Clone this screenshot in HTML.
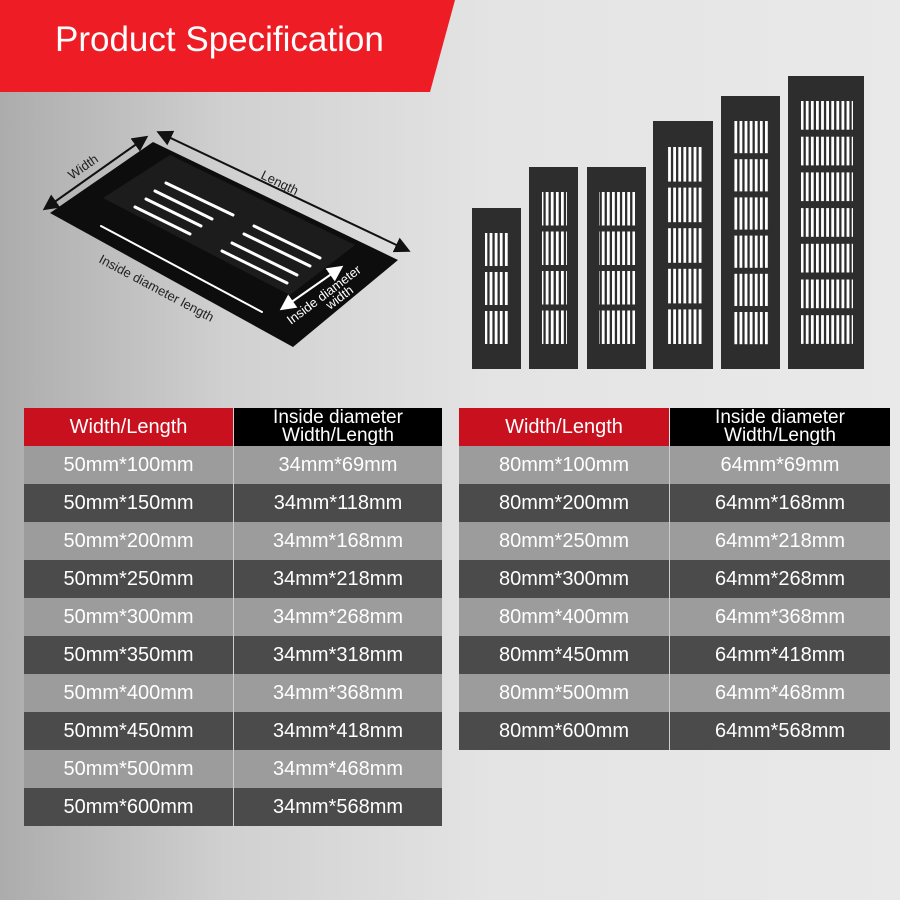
<!DOCTYPE html>
<html><head><meta charset="utf-8"><style>
body{margin:0;width:900px;height:900px;overflow:hidden;font-family:"Liberation Sans",sans-serif;}
#bg{position:absolute;left:0;top:0;width:900px;height:900px;background:linear-gradient(90deg,#acacac 0%,#d0d0d0 25%,#e4e4e4 55%,#e9e9e9 100%);}
.c{position:absolute;color:#fff;font-size:20px;display:flex;align-items:center;justify-content:center;text-align:center;line-height:19px;}
</style></head><body>
<div id="bg"></div>
<svg width="900" height="900" style="position:absolute;left:0;top:0">
<defs>
<pattern id="sl" x="0" y="0" width="5.1" height="10" patternUnits="userSpaceOnUse"><rect x="0" y="0" width="2.8" height="10" fill="#fff"/></pattern>
<marker id="ah" markerWidth="8" markerHeight="8" refX="6" refY="4" orient="auto-start-reverse"><path d="M0,0 L8,4 L0,8 z" fill="#111"/></marker>
<marker id="aw" markerWidth="8" markerHeight="8" refX="6" refY="4" orient="auto-start-reverse"><path d="M0,0 L8,4 L0,8 z" fill="#fff"/></marker>
</defs>
<polygon points="0,0 455,0 430,92 0,92" fill="#ee1c25"/>
<text x="55" y="51" font-size="35" fill="#fff" font-family="Liberation Sans">Product Specification</text>

<!-- product -->
<polygon points="50,213 153,142 398,260 293,347" fill="#0d0d0d"/>
<polygon points="103,198 170,155 355,245 290,295" fill="#1c1c1c"/>
<g stroke="#fff" stroke-width="3" stroke-linecap="round">
<line x1="166" y1="183" x2="233" y2="215"/><line x1="155" y1="191" x2="212" y2="219"/><line x1="146" y1="199" x2="201" y2="226"/><line x1="135" y1="207" x2="190" y2="234"/>
<line x1="254" y1="226" x2="320" y2="258"/><line x1="244" y1="234" x2="310" y2="266"/><line x1="232" y1="243" x2="297" y2="275"/><line x1="222" y1="251" x2="287" y2="283"/>
<line x1="101" y1="226" x2="262" y2="312" stroke-width="2"/>
</g>
<line x1="46" y1="208" x2="145" y2="138" stroke="#111" stroke-width="2" marker-start="url(#ah)" marker-end="url(#ah)"/>
<line x1="160" y1="133" x2="407" y2="250" stroke="#111" stroke-width="2" marker-start="url(#ah)" marker-end="url(#ah)"/>
<line x1="283" y1="308" x2="340" y2="268" stroke="#fff" stroke-width="2" marker-start="url(#aw)" marker-end="url(#aw)"/>
<text transform="translate(72,180) rotate(-35)" font-size="13" fill="#222">Width</text>
<text transform="translate(260,178) rotate(26)" font-size="13" fill="#222">Length</text>
<text transform="translate(98,262) rotate(28)" font-size="13" fill="#222">Inside diameter length</text>
<text transform="translate(291,325) rotate(-37)" font-size="13" fill="#fff">Inside diameter</text>
<text transform="translate(330,310) rotate(-37)" font-size="13" fill="#fff">width</text>

<!-- vents -->
<g fill="#2d2d2d"><rect x="472" y="208" width="49" height="161"/><rect x="529" y="167" width="49" height="202"/><rect x="587" y="167" width="59" height="202"/><rect x="653" y="121" width="60" height="248"/><rect x="721" y="96" width="59" height="273"/><rect x="788" y="76" width="76" height="293"/></g>
<g fill="url(#sl)">
<rect x="485" y="233" width="25" height="33"/><rect x="485" y="272" width="25" height="33"/><rect x="485" y="311" width="25" height="33"/>
<rect x="542" y="192" width="25" height="33.5"/><rect x="542" y="231.5" width="25" height="33.5"/><rect x="542" y="271" width="25" height="33.5"/><rect x="542" y="310.5" width="25" height="33.5"/>
<rect x="599" y="192" width="36" height="33.5"/><rect x="599" y="231.5" width="36" height="33.5"/><rect x="599" y="271" width="36" height="33.5"/><rect x="599" y="310.5" width="36" height="33.5"/>
<rect x="666" y="147" width="36" height="34.6"/><rect x="666" y="187.6" width="36" height="34.6"/><rect x="666" y="228.2" width="36" height="34.6"/><rect x="666" y="268.8" width="36" height="34.6"/><rect x="666" y="309.4" width="36" height="34.6"/>
<rect x="733" y="121" width="36" height="32.2"/><rect x="733" y="159.2" width="36" height="32.2"/><rect x="733" y="197.4" width="36" height="32.2"/><rect x="733" y="235.6" width="36" height="32.2"/><rect x="733" y="273.8" width="36" height="32.2"/><rect x="733" y="312" width="36" height="32.2"/>
<rect x="801" y="101" width="52" height="28.7"/><rect x="801" y="136.7" width="52" height="28.7"/><rect x="801" y="172.4" width="52" height="28.7"/><rect x="801" y="208.1" width="52" height="28.7"/><rect x="801" y="243.8" width="52" height="28.7"/><rect x="801" y="279.5" width="52" height="28.7"/><rect x="801" y="315.2" width="52" height="28.7"/>
</g>
</svg>

<!-- left table -->
<div class="c" style="left:24px;top:408px;width:209px;height:38px;background:#c8101e">Width/Length</div>
<div class="c" style="left:234px;top:408px;width:208px;height:38px;background:#000;font-size:19px;line-height:18px">Inside diameter<br>Width/Length</div>
<div style="position:absolute;left:24px;top:446px;width:418px;">
<div style="display:flex;height:38px;background:#9c9c9c"><div class="c" style="position:static;width:209px;border-right:1px solid #ccc">50mm*100mm</div><div class="c" style="position:static;width:208px">34mm*69mm</div></div>
<div style="display:flex;height:38px;background:#4b4b4b"><div class="c" style="position:static;width:209px;border-right:1px solid #ccc">50mm*150mm</div><div class="c" style="position:static;width:208px">34mm*118mm</div></div>
<div style="display:flex;height:38px;background:#9c9c9c"><div class="c" style="position:static;width:209px;border-right:1px solid #ccc">50mm*200mm</div><div class="c" style="position:static;width:208px">34mm*168mm</div></div>
<div style="display:flex;height:38px;background:#4b4b4b"><div class="c" style="position:static;width:209px;border-right:1px solid #ccc">50mm*250mm</div><div class="c" style="position:static;width:208px">34mm*218mm</div></div>
<div style="display:flex;height:38px;background:#9c9c9c"><div class="c" style="position:static;width:209px;border-right:1px solid #ccc">50mm*300mm</div><div class="c" style="position:static;width:208px">34mm*268mm</div></div>
<div style="display:flex;height:38px;background:#4b4b4b"><div class="c" style="position:static;width:209px;border-right:1px solid #ccc">50mm*350mm</div><div class="c" style="position:static;width:208px">34mm*318mm</div></div>
<div style="display:flex;height:38px;background:#9c9c9c"><div class="c" style="position:static;width:209px;border-right:1px solid #ccc">50mm*400mm</div><div class="c" style="position:static;width:208px">34mm*368mm</div></div>
<div style="display:flex;height:38px;background:#4b4b4b"><div class="c" style="position:static;width:209px;border-right:1px solid #ccc">50mm*450mm</div><div class="c" style="position:static;width:208px">34mm*418mm</div></div>
<div style="display:flex;height:38px;background:#9c9c9c"><div class="c" style="position:static;width:209px;border-right:1px solid #ccc">50mm*500mm</div><div class="c" style="position:static;width:208px">34mm*468mm</div></div>
<div style="display:flex;height:38px;background:#4b4b4b"><div class="c" style="position:static;width:209px;border-right:1px solid #ccc">50mm*600mm</div><div class="c" style="position:static;width:208px">34mm*568mm</div></div>
</div>
<!-- right table -->
<div class="c" style="left:459px;top:408px;width:210px;height:38px;background:#c8101e">Width/Length</div>
<div class="c" style="left:670px;top:408px;width:220px;height:38px;background:#000;font-size:19px;line-height:18px">Inside diameter<br>Width/Length</div>
<div style="position:absolute;left:459px;top:446px;width:431px;">
<div style="display:flex;height:38px;background:#9c9c9c"><div class="c" style="position:static;width:210px;border-right:1px solid #ccc">80mm*100mm</div><div class="c" style="position:static;width:220px">64mm*69mm</div></div>
<div style="display:flex;height:38px;background:#4b4b4b"><div class="c" style="position:static;width:210px;border-right:1px solid #ccc">80mm*200mm</div><div class="c" style="position:static;width:220px">64mm*168mm</div></div>
<div style="display:flex;height:38px;background:#9c9c9c"><div class="c" style="position:static;width:210px;border-right:1px solid #ccc">80mm*250mm</div><div class="c" style="position:static;width:220px">64mm*218mm</div></div>
<div style="display:flex;height:38px;background:#4b4b4b"><div class="c" style="position:static;width:210px;border-right:1px solid #ccc">80mm*300mm</div><div class="c" style="position:static;width:220px">64mm*268mm</div></div>
<div style="display:flex;height:38px;background:#9c9c9c"><div class="c" style="position:static;width:210px;border-right:1px solid #ccc">80mm*400mm</div><div class="c" style="position:static;width:220px">64mm*368mm</div></div>
<div style="display:flex;height:38px;background:#4b4b4b"><div class="c" style="position:static;width:210px;border-right:1px solid #ccc">80mm*450mm</div><div class="c" style="position:static;width:220px">64mm*418mm</div></div>
<div style="display:flex;height:38px;background:#9c9c9c"><div class="c" style="position:static;width:210px;border-right:1px solid #ccc">80mm*500mm</div><div class="c" style="position:static;width:220px">64mm*468mm</div></div>
<div style="display:flex;height:38px;background:#4b4b4b"><div class="c" style="position:static;width:210px;border-right:1px solid #ccc">80mm*600mm</div><div class="c" style="position:static;width:220px">64mm*568mm</div></div>
</div>
</body></html>
